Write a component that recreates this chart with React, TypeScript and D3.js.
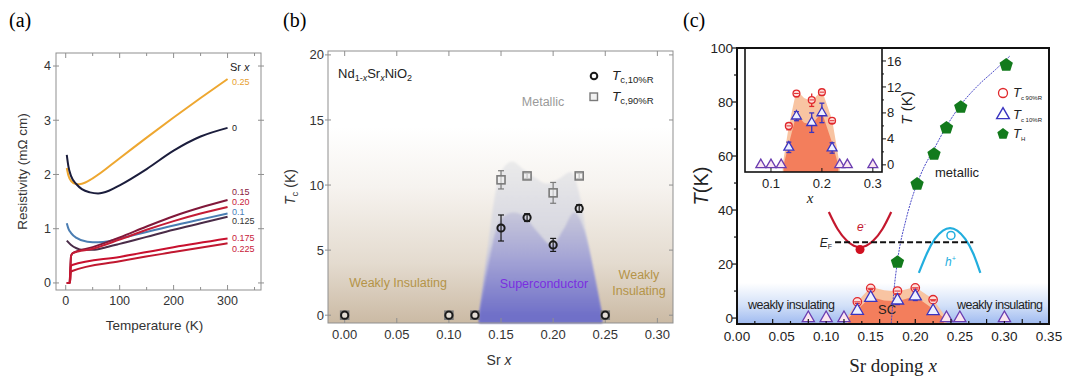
import React from "react";
import * as d3 from "d3";

const SANS = "'Liberation Sans', Arial, Helvetica, sans-serif";
const SERIF = "'Liberation Serif', 'Times New Roman', serif";

type Pt = [number, number];

// (a) resistivity curves, [T (K), rho (mOhm cm)]
const rhoX025: Pt[] = [[2, 2.12], [5, 1.98], [10, 1.88], [20, 1.82], [30, 1.83], [50, 1.93], [100, 2.3], [150, 2.68], [200, 3.05], [250, 3.41], [300, 3.76]];
const rhoX0: Pt[] = [[2, 2.36], [5, 2.15], [10, 1.97], [20, 1.82], [30, 1.73], [45, 1.67], [60, 1.65], [80, 1.7], [100, 1.8], [150, 2.1], [200, 2.44], [250, 2.7], [300, 2.86]];
const rhoX015: Pt[] = [[2, 0], [7, 0], [10, 0.5], [13, 0.55], [50, 0.66], [100, 0.84], [150, 1.04], [200, 1.23], [250, 1.39], [300, 1.53]];
const rhoX020: Pt[] = [[2, 0], [7, 0], [10, 0.5], [13, 0.55], [50, 0.63], [100, 0.8], [150, 0.98], [200, 1.14], [250, 1.28], [300, 1.4]];
const rhoX01: Pt[] = [[2, 1.1], [5, 1.0], [10, 0.92], [20, 0.83], [40, 0.76], [60, 0.75], [80, 0.77], [100, 0.82], [150, 0.94], [200, 1.06], [250, 1.17], [300, 1.28]];
const rhoX0125: Pt[] = [[2, 0.78], [10, 0.7], [20, 0.64], [30, 0.61], [50, 0.61], [75, 0.66], [100, 0.72], [150, 0.85], [200, 0.98], [250, 1.1], [300, 1.22]];
const rhoX0175: Pt[] = [[2, 0], [8, 0], [9.5, 0.3], [12, 0.33], [100, 0.48], [200, 0.66], [300, 0.82]];
const rhoX0225: Pt[] = [[2, 0], [8, 0], [9.5, 0.2], [12, 0.22], [100, 0.4], [200, 0.57], [300, 0.73]];
const tempTicksA = [0, 100, 200, 300];
const rhoTicksA = [0, 1, 2, 3, 4];

// (b) Tc vs Sr x
const srB = [0, 0.1, 0.125, 0.15, 0.175, 0.2, 0.225, 0.25];
const tc10B = [0, 0, 0, 6.7, 7.5, 5.4, 8.2, 0];
const tc10ErrB = [0, 0, 0, 1.0, 0.3, 0.5, 0.3, 0];
const srB90 = [0, 0.1, 0.125, 0.15, 0.175, 0.2, 0.225, 0.25];
const tc90B = [0, 0, 0, 10.4, 10.7, 9.4, 10.7, 0];
const tc90ErrB = [0, 0, 0, 0.7, 0.2, 0.8, 0.2, 0];
const domeOuterXB = [0.129, 0.137, 0.145, 0.153, 0.161, 0.17, 0.182, 0.194, 0.206, 0.217, 0.226, 0.236, 0.247];
const domeOuterTB = [0, 5, 9.6, 11.4, 11.8, 11.3, 10.6, 10.1, 10.5, 11.0, 9, 4, 0];
const domeInnerXB = [0.129, 0.137, 0.145, 0.153, 0.162, 0.172, 0.185, 0.199, 0.21, 0.22, 0.23, 0.24, 0.247];
const domeInnerTB = [0, 3.5, 6.5, 7.6, 7.9, 7.6, 6.4, 5.4, 6.6, 7.9, 6.5, 3, 0];
const srTicksB = [0, 0.05, 0.1, 0.15, 0.2, 0.25, 0.3];
const tcTicksB = [0, 5, 10, 15, 20];

// (c) phase diagram
const dopingC = [0.135, 0.15, 0.18, 0.2, 0.22];
const tc90C = [6.0, 11.0, 10.0, 11.2, 6.8];
const tc90ErrC = [0.6, 0.5, 1.0, 0.5, 0.4];
const tc10C = [2.7, 7.5, 6.5, 8.0, 2.6];
const tc10ErrC = [0.8, 0.7, 1.5, 1.5, 0.8];
const dopingZeroC = [0.08, 0.1, 0.12, 0.235, 0.25, 0.3];
const dopingTH = [0.18, 0.202, 0.221, 0.235, 0.251, 0.302];
const tempTH = [20.7, 49.6, 60.7, 70.4, 78.1, 93.7];
const fitX = [0.173, 0.176, 0.18, 0.19, 0.2, 0.21, 0.22, 0.235, 0.25, 0.27, 0.29, 0.306];
const fitT = [-2, 10, 21, 37, 48, 56, 62, 71, 78.5, 86, 92, 97];
const domeOuterXC = [0.123, 0.135, 0.15, 0.165, 0.18, 0.2, 0.22, 0.235];
const domeOuterTC = [0, 6, 11.5, 10.3, 9.8, 11.5, 7.0, 0];
const domeInnerXC = [0.125, 0.135, 0.15, 0.165, 0.18, 0.2, 0.22, 0.232];
const domeInnerTC = [0, 3.2, 7.8, 6.5, 6.2, 8.1, 3.4, 0];
const bandEX = [0.103, 0.113, 0.123, 0.131, 0.138, 0.145, 0.153, 0.163, 0.173];
const bandET = [39.3, 32.9, 28.7, 26.8, 26.3, 26.8, 28.7, 32.9, 39.3];
const bandHX = [0.204, 0.213, 0.222, 0.231, 0.239, 0.247, 0.256, 0.265, 0.273];
const bandHT = [16.7, 23.9, 29.3, 32.4, 33.3, 32.4, 29.3, 23.9, 16.7];
const fermiX = [0.11, 0.265];
const fermiT = 28.1;
const dopingTicksC = [0, 0.05, 0.1, 0.15, 0.2, 0.25, 0.3, 0.35];
const tempTicksC = [0, 20, 40, 60, 80, 100];
const insetXTicks = [0.1, 0.2, 0.3];
const insetYTicks = [0, 4, 8, 12, 16];

const zip = (xs: number[], ys: number[]): Pt[] => xs.map((v, i) => [v, ys[i]]);

function pentagon(r: number) {
  const pts = d3.range(5).map((i) => {
    const a = -Math.PI / 2 + (i * 2 * Math.PI) / 5;
    return [r * Math.cos(a), r * Math.sin(a)];
  });
  return "M" + pts.map((p) => p.join(",")).join("L") + "Z";
}

function PanelA() {
  const x = d3.scaleLinear().domain([-18, 362]).range([56, 261]);
  const y = d3.scaleLinear().domain([-0.13, 4.24]).range([290, 53]);
  const line = d3.line<Pt>().x((d) => x(d[0])).y((d) => y(d[1])).curve(d3.curveMonotoneX);
  const series = [
    { key: "0.25", data: rhoX025, color: "#eea730", label: "#e8a030", dy: 3 },
    { key: "0", data: rhoX0, color: "#1b1d3c", label: "#222", dy: 0 },
    { key: "0.125", data: rhoX0125, color: "#4a2c48", label: "#333", dy: 4.5 },
    { key: "0.1", data: rhoX01, color: "#4a7db2", label: "#4a80b8", dy: -1.5 },
    { key: "0.15", data: rhoX015, color: "#80183a", label: "#8a2040", dy: -8.5 },
    { key: "0.20", data: rhoX020, color: "#c41d36", label: "#c8203a", dy: -5 },
    { key: "0.175", data: rhoX0175, color: "#c8102e", label: "#c8203a", dy: -0.5 },
    { key: "0.225", data: rhoX0225, color: "#c01830", label: "#c8203a", dy: 5 },
  ];
  const [xl, xr] = x.range();
  const [yb, yt] = y.range();
  return (
    <g>
      <text x={9} y={27} fontFamily={SERIF} fontSize={20}>(a)</text>
      <rect x={xl} y={yt} width={xr - xl} height={yb - yt} fill="none" stroke="#8f8f8f" strokeWidth={1} />
      {d3.range(0, 351, 50).map((t) => (
        <g key={"xt" + t}>
          <line x1={x(t)} x2={x(t)} y1={yb} y2={yb - (t % 100 === 0 ? 5 : 3)} stroke="#8f8f8f" />
          <line x1={x(t)} x2={x(t)} y1={yt} y2={yt + (t % 100 === 0 ? 5 : 3)} stroke="#8f8f8f" />
        </g>
      ))}
      {rhoTicksA.map((r) => (
        <g key={"yt" + r}>
          <line x1={xl - 3} x2={xl + 3} y1={y(r)} y2={y(r)} stroke="#8f8f8f" />
          <line x1={xr - 3} x2={xr + 3} y1={y(r)} y2={y(r)} stroke="#8f8f8f" />
          <text x={xl - 5} y={y(r)} dy="0.35em" textAnchor="end" fontSize={12.5} fill="#333">{r}</text>
        </g>
      ))}
      {tempTicksA.map((t) => (
        <text key={"xl" + t} x={x(t)} y={yb + 15} textAnchor="middle" fontSize={12.5} fill="#333">{t}</text>
      ))}
      {series.map((s) => (
        <path key={s.key} d={line(s.data) || ""} fill="none" stroke={s.color} strokeWidth={2} />
      ))}
      {series.map((s) => {
        const last = s.data[s.data.length - 1];
        return (
          <text key={"l" + s.key} x={232} y={y(last[1]) + s.dy} dy="0.35em" fontSize={9} fill={s.label}>{s.key}</text>
        );
      })}
      <text x={230} y={71} fontSize={11} fill="#222">Sr <tspan fontStyle="italic">x</tspan></text>
      <text transform={`translate(27,${(yb + yt) / 2}) rotate(-90)`} textAnchor="middle" fontSize={13.5} fill="#333">Resistivity (mΩ cm)</text>
      <text x={(xl + xr) / 2 - 4} y={330} textAnchor="middle" fontSize={13.5} fill="#333">Temperature (K)</text>
    </g>
  );
}

function PanelB() {
  const x = d3.scaleLinear().domain([-0.016, 0.315]).range([328, 673]);
  const y = d3.scaleLinear().domain([-0.6, 20.3]).range([323, 51]);
  const [xl, xr] = x.range();
  const [yb, yt] = y.range();
  const area = d3.area<Pt>().x((d) => x(d[0])).y0(y(-0.6)).y1((d) => y(d[1])).curve(d3.curveMonotoneX);
  const outer = zip(domeOuterXB, domeOuterTB);
  const inner = zip(domeInnerXB, domeInnerTB);
  const c10 = zip(srB, tc10B);
  const c90 = zip(srB90, tc90B);
  return (
    <g>
      <defs>
        <linearGradient id="bgB" x1="0" y1="1" x2="0" y2="0">
          <stop offset="0" stopColor="#cbbaa4" />
          <stop offset="0.22" stopColor="#e4dbcf" />
          <stop offset="0.5" stopColor="#f6f3ef" />
          <stop offset="0.72" stopColor="#ffffff" />
        </linearGradient>
        <linearGradient id="outerB" gradientUnits="userSpaceOnUse" x1="0" y1={y(0)} x2="0" y2={y(12)}>
          <stop offset="0" stopColor="#8c8cd0" />
          <stop offset="0.45" stopColor="#d4d4de" />
          <stop offset="1" stopColor="#ebebeb" />
        </linearGradient>
        <linearGradient id="innerB" gradientUnits="userSpaceOnUse" x1="0" y1={y(0)} x2="0" y2={y(8.5)}>
          <stop offset="0" stopColor="#7070c8" />
          <stop offset="0.55" stopColor="#a8a8d6" />
          <stop offset="1" stopColor="#cdcddb" />
        </linearGradient>
        <filter id="blurB"><feGaussianBlur stdDeviation="1.2" /></filter>
      </defs>
      <text x={283} y={27} fontFamily={SERIF} fontSize={20}>(b)</text>
      <rect x={xl} y={yt} width={xr - xl} height={yb - yt} fill="url(#bgB)" />
      <path d={area(outer) || ""} fill="url(#outerB)" filter="url(#blurB)" />
      <path d={area(inner) || ""} fill="url(#innerB)" filter="url(#blurB)" />
      <rect x={xl} y={yt} width={xr - xl} height={yb - yt} fill="none" stroke="#8f8f8f" />
      {srTicksB.map((v) => (
        <g key={"xt" + v}>
          <line x1={x(v)} x2={x(v)} y1={yb} y2={yb - 5} stroke="#8f8f8f" />
          <line x1={x(v)} x2={x(v)} y1={yt} y2={yt + 5} stroke="#8f8f8f" />
          <text x={x(v)} y={yb + 16} textAnchor="middle" fontSize={13} fill="#333">{v.toFixed(2)}</text>
        </g>
      ))}
      {tcTicksB.map((v) => (
        <g key={"yt" + v}>
          <line x1={xl - 3} x2={xl + 3} y1={y(v)} y2={y(v)} stroke="#8f8f8f" />
          <line x1={xr - 4} x2={xr} y1={y(v)} y2={y(v)} stroke="#8f8f8f" />
          <text x={xl - 4} y={y(v)} dy="0.35em" textAnchor="end" fontSize={13} fill="#333">{v}</text>
        </g>
      ))}
      {c90.map((d, i) => (
        <g key={"sq" + i} stroke="#7a7a7a" strokeWidth={1.2}>
          {tc90ErrB[i] > 0 && (
            <g>
              <line x1={x(d[0])} x2={x(d[0])} y1={y(d[1] - tc90ErrB[i])} y2={y(d[1] + tc90ErrB[i])} />
              <line x1={x(d[0]) - 3} x2={x(d[0]) + 3} y1={y(d[1] - tc90ErrB[i])} y2={y(d[1] - tc90ErrB[i])} />
              <line x1={x(d[0]) - 3} x2={x(d[0]) + 3} y1={y(d[1] + tc90ErrB[i])} y2={y(d[1] + tc90ErrB[i])} />
            </g>
          )}
          <rect x={x(d[0]) - 4} y={y(d[1]) - 4} width={8} height={8} fill="#f2f2f2" fillOpacity={0.6} strokeWidth={1.6} />
        </g>
      ))}
      {c10.map((d, i) => (
        <g key={"ci" + i} stroke="#1a1a1a">
          {tc10ErrB[i] > 0 && (
            <g strokeWidth={1.2}>
              <line x1={x(d[0])} x2={x(d[0])} y1={y(d[1] - tc10ErrB[i])} y2={y(d[1] + tc10ErrB[i])} />
              <line x1={x(d[0]) - 3} x2={x(d[0]) + 3} y1={y(d[1] - tc10ErrB[i])} y2={y(d[1] - tc10ErrB[i])} />
              <line x1={x(d[0]) - 3} x2={x(d[0]) + 3} y1={y(d[1] + tc10ErrB[i])} y2={y(d[1] + tc10ErrB[i])} />
            </g>
          )}
          <circle cx={x(d[0])} cy={y(d[1])} r={3.6} fill="none" strokeWidth={2} />
        </g>
      ))}
      <text x={338} y={78} fontSize={13} fill="#222">
        Nd<tspan fontSize={9} dy={3}>1-</tspan><tspan fontSize={9} fontStyle="italic">x</tspan>
        <tspan dy={-3}>Sr</tspan><tspan fontSize={9} dy={3} fontStyle="italic">x</tspan>
        <tspan dy={-3}>NiO</tspan><tspan fontSize={9} dy={3}>2</tspan>
      </text>
      <circle cx={594} cy={76} r={3.3} fill="none" stroke="#1a1a1a" strokeWidth={2} />
      <text x={612} y={80} fontSize={13.5} fontStyle="italic" fill="#222">T<tspan fontStyle="normal" fontSize={9.5} dy={3}>c,10%R</tspan></text>
      <rect x={590} y={93} width={7.5} height={7.5} fill="#f2f2f2" stroke="#7a7a7a" strokeWidth={1.4} />
      <text x={612} y={101} fontSize={13.5} fontStyle="italic" fill="#222">T<tspan fontStyle="normal" fontSize={9.5} dy={3}>c,90%R</tspan></text>
      <text x={543} y={106} textAnchor="middle" fontSize={12.5} fill="#9a9a9a">Metallic</text>
      <text x={398} y={287} textAnchor="middle" fontSize={12.5} fill="#b49448">Weakly Insulating</text>
      <text x={544} y={288} textAnchor="middle" fontSize={12.5} fill="#7a2ee0">Superconductor</text>
      <text x={639} y={279} textAnchor="middle" fontSize={12.5} fill="#b49448">Weakly</text>
      <text x={639} y={295} textAnchor="middle" fontSize={12.5} fill="#b49448">Insulating</text>
      <text transform={`translate(295,${(yb + yt) / 2}) rotate(-90)`} textAnchor="middle" fontSize={14} fill="#333">
        <tspan fontStyle="italic">T</tspan><tspan fontSize={9.5} dy={3}>c</tspan><tspan dy={-3}> (K)</tspan>
      </text>
      <text x={499} y={365} textAnchor="middle" fontSize={14} fill="#333">Sr <tspan fontStyle="italic">x</tspan></text>
    </g>
  );
}

function Markers({ x, y, small }: { x: d3.ScaleLinear<number, number>; y: d3.ScaleLinear<number, number>; small: boolean }) {
  const r = small ? 3.4 : 4.2;
  const tri = d3.symbol().type(d3.symbolTriangle).size(small ? 42 : 64)() || "";
  const pts90 = zip(dopingC, tc90C);
  const pts10 = zip(dopingC, tc10C);
  const zeros = dopingZeroC.map((v) => [v, 0] as Pt);
  return (
    <g>
      {pts90.map((d, i) => (
        <g key={"c" + i} stroke="#e0282c" strokeWidth={1.3}>
          <line x1={x(d[0])} x2={x(d[0])} y1={y(d[1] - tc90ErrC[i])} y2={y(d[1] + tc90ErrC[i])} />
          <circle cx={x(d[0])} cy={y(d[1])} r={r} fill="#fde0dc" />
          <line x1={x(d[0]) - r + 1} x2={x(d[0]) + r - 1} y1={y(d[1])} y2={y(d[1])} strokeWidth={1} />
          <line x1={x(d[0]) - 2.5} x2={x(d[0]) + 2.5} y1={y(d[1] - tc90ErrC[i])} y2={y(d[1] - tc90ErrC[i])} />
        </g>
      ))}
      {pts10.map((d, i) => (
        <g key={"t" + i} stroke="#3a34c0" strokeWidth={1.3}>
          <line x1={x(d[0])} x2={x(d[0])} y1={y(d[1] - tc10ErrC[i])} y2={y(d[1] + tc10ErrC[i])} />
          <line x1={x(d[0]) - 2.5} x2={x(d[0]) + 2.5} y1={y(d[1] - tc10ErrC[i])} y2={y(d[1] - tc10ErrC[i])} />
          <line x1={x(d[0]) - 2.5} x2={x(d[0]) + 2.5} y1={y(d[1] + tc10ErrC[i])} y2={y(d[1] + tc10ErrC[i])} />
          <path d={tri} transform={`translate(${x(d[0])},${y(d[1])})`} fill="#eef0ff" />
        </g>
      ))}
      {zeros.map((d, i) => (
        <path key={"z" + i} d={tri} transform={`translate(${x(d[0])},${y(d[1])})`} fill="#fbe6f0" stroke="#6a3cb0" strokeWidth={1.3} />
      ))}
    </g>
  );
}

function PanelC() {
  const x = d3.scaleLinear().domain([0, 0.35]).range([737, 1049]);
  const y = d3.scaleLinear().domain([-2.2, 100]).range([324, 48]);
  const [xl, xr] = x.range();
  const [yb, yt] = y.range();
  const area = d3.area<Pt>().x((d) => x(d[0])).y0(yb).y1((d) => y(d[1]));
  const fit = d3.line<Pt>().x((d) => x(d[0])).y((d) => y(d[1])).curve(d3.curveMonotoneX);
  const band = d3.line<Pt>().x((d) => x(d[0])).y((d) => y(d[1])).curve(d3.curveNatural);

  const ix = d3.scaleLinear().domain([0.049, 0.318]).range([745, 882]);
  const iy = d3.scaleLinear().domain([-1.1, 18]).range([172, 48]);
  const [ixl, ixr] = ix.range();
  const [iyb, iyt] = iy.range();
  const iarea = d3.area<Pt>().x((d) => ix(d[0])).y0(iyb).y1((d) => iy(d[1]));
  const pent = pentagon(7);

  return (
    <g>
      <defs>
        <linearGradient id="bgC" gradientUnits="userSpaceOnUse" x1="0" y1={yb} x2="0" y2={y(13)}>
          <stop offset="0" stopColor="#9fbaf0" />
          <stop offset="0.45" stopColor="#d2e0f8" />
          <stop offset="1" stopColor="#ffffff" />
        </linearGradient>
      </defs>
      <text x={683} y={27} fontFamily={SERIF} fontSize={20}>(c)</text>
      <rect x={xl} y={yt} width={xr - xl} height={yb - yt} fill="url(#bgC)" />
      <path d={area(zip(domeOuterXC, domeOuterTC)) || ""} fill="#f8c4a2" />
      <path d={area(zip(domeInnerXC, domeInnerTC)) || ""} fill="#f37e5c" />
      <text x={748} y={309} fontSize={12.5} fill="#222" textLength={87}>weakly insulating</text>
      <text x={957} y={309} fontSize={12.5} fill="#222" textLength={86}>weakly insulating</text>
      <text x={878} y={314} fontSize={13} fill="#222">SC</text>
      <path d={fit(zip(fitX, fitT)) || ""} fill="none" stroke="#4a4ac8" strokeWidth={1} strokeDasharray="2,1" />
      <Markers x={x} y={y} small={false} />
      {zip(dopingTH, tempTH).map((d, i) => (
        <path key={"h" + i} d={pent} transform={`translate(${x(d[0])},${y(d[1])})`} fill="#127a1c" />
      ))}
      {/* band schematic */}
      <path d={band(zip(bandEX, bandET)) || ""} fill="none" stroke="#c4182e" strokeWidth={2.2} />
      <path d={band(zip(bandHX, bandHT)) || ""} fill="none" stroke="#22aede" strokeWidth={2.2} />
      <line x1={x(fermiX[0])} x2={x(fermiX[1])} y1={y(fermiT)} y2={y(fermiT)} stroke="#111" strokeWidth={2} strokeDasharray="6,3" />
      <circle cx={x(0.138)} cy={y(25.4)} r={4.5} fill="#d01020" />
      <circle cx={x(0.24)} cy={y(30.6)} r={4} fill="#fff" stroke="#22aede" strokeWidth={1.5} />
      <text x={826} y={247} textAnchor="middle" fontSize={12} fontStyle="italic" fill="#222">E<tspan fontSize={7} dy={2} fontStyle="normal">F</tspan></text>
      <text x={857} y={231} fontSize={12} fontStyle="italic" fill="#c4182e">e<tspan fontSize={7} dy={-5}>-</tspan></text>
      <text x={945} y={266} fontSize={12} fontStyle="italic" fill="#22aede">h<tspan fontSize={7} dy={-5}>+</tspan></text>
      <text x={935} y={177} fontSize={13} fill="#222">metallic</text>

      {/* legend */}
      <circle cx={1003} cy={93} r={4.5} fill="none" stroke="#e0282c" strokeWidth={1.3} />
      <text x={1013} y={97} fontSize={13} fontStyle="italic" fill="#222">T<tspan fontSize={6} dy={3} fontStyle="normal">c 90%R</tspan></text>
      <path d={d3.symbol().type(d3.symbolTriangle).size(70)() || ""} transform="translate(1003,115)" fill="none" stroke="#3a34c0" strokeWidth={1.4} />
      <text x={1013} y={119} fontSize={13} fontStyle="italic" fill="#222">T<tspan fontSize={6} dy={3} fontStyle="normal">c 10%R</tspan></text>
      <path d={pentagon(6)} transform="translate(1003,134)" fill="#127a1c" />
      <text x={1013} y={138} fontSize={13} fontStyle="italic" fill="#222">T<tspan fontSize={6} dy={3} fontStyle="normal">H</tspan></text>

      {/* inset */}
      <rect x={ixl} y={iyt} width={ixr - ixl} height={iyb - iyt} fill="#fff" />
      <path d={iarea(zip(domeOuterXC, domeOuterTC)) || ""} fill="#f8c4a2" />
      <path d={iarea(zip(domeInnerXC, domeInnerTC)) || ""} fill="#f37e5c" />
      <Markers x={ix} y={iy} small={true} />
      <rect x={ixl} y={iyt} width={ixr - ixl} height={iyb - iyt} fill="none" stroke="#111" strokeWidth={1.6} />
      {insetXTicks.map((v) => (
        <g key={"ixt" + v}>
          <line x1={ix(v)} x2={ix(v)} y1={iyb} y2={iyb - 4} stroke="#111" />
          <text x={ix(v)} y={iyb + 16} textAnchor="middle" fontSize={13} fill="#222">{v}</text>
        </g>
      ))}
      {insetYTicks.map((v) => (
        <g key={"iyt" + v}>
          <line x1={ixr} x2={ixr + 4} y1={iy(v)} y2={iy(v)} stroke="#111" />
          <text x={ixr + 5} y={iy(v)} dy="0.35em" fontSize={13} fill="#222">{v}</text>
        </g>
      ))}
      {[2, 6, 10, 14].map((v) => (
        <line key={"imt" + v} x1={ixr} x2={ixr + 2} y1={iy(v)} y2={iy(v)} stroke="#111" />
      ))}
      <text transform={`translate(912,${(iyb + iyt) / 2 - 2}) rotate(-90)`} textAnchor="middle" fontSize={15} fill="#222">
        <tspan fontStyle="italic">T</tspan> (K)
      </text>
      <text x={810} y={203} textAnchor="middle" fontFamily={SERIF} fontStyle="italic" fontSize={15} fill="#222">x</text>

      {/* main frame and axes */}
      <rect x={xl} y={yt} width={xr - xl} height={yb - yt} fill="none" stroke="#111" strokeWidth={2} />
      {x.ticks(14).map((v, i) => (
        <line key={"xm" + i} x1={x(v)} x2={x(v)} y1={yb} y2={yb - (i % 2 === 0 ? 5 : 3)} stroke="#111" strokeWidth={1.2} />
      ))}
      {dopingTicksC.map((v) => (
        <text key={"xl" + v} x={x(v)} y={yb + 17} textAnchor="middle" fontSize={13.5} fill="#222">{v.toFixed(2)}</text>
      ))}
      {y.ticks(10).map((v, i) => (
        <line key={"ym" + i} x1={xl} x2={xl - (v % 20 === 0 ? 5 : 3)} y1={y(v)} y2={y(v)} stroke="#111" strokeWidth={1.2} />
      ))}
      {tempTicksC.map((v) => (
        <text key={"yl" + v} x={xl - 4} y={y(v)} dy="0.35em" textAnchor="end" fontSize={13.5} fill="#222">{v}</text>
      ))}
      <text transform={`translate(708,${(yb + yt) / 2}) rotate(-90)`} textAnchor="middle" fontSize={20} fill="#222">
        <tspan fontStyle="italic">T</tspan>(K)
      </text>
      <text x={893} y={372} textAnchor="middle" fontFamily={SERIF} fontSize={19} fill="#222">
        Sr doping <tspan fontStyle="italic">x</tspan>
      </text>
    </g>
  );
}

export default function App() {
  return (
    <svg width={1065} height={380} style={{ position: "absolute", left: 0, top: 0, background: "#fff" }} fontFamily={SANS}>
      <PanelA />
      <PanelB />
      <PanelC />
    </svg>
  );
}
